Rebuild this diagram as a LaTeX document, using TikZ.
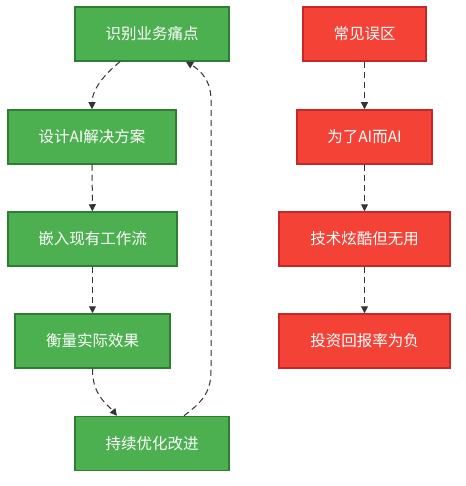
\documentclass[tikz,border=0pt]{standalone}
\usepackage{fontspec}
\newfontfamily\cjk{Noto Sans CJK SC}
\usetikzlibrary{arrows.meta}
\definecolor{FlowGreen}{RGB}{76, 175, 80}
\definecolor{FlowGreenDark}{RGB}{46, 125, 50}
\definecolor{FlowRed}{RGB}{244, 67, 54}
\definecolor{FlowRedDark}{RGB}{198, 40, 40}
\definecolor{LinkGray}{RGB}{51, 51, 51}
\tikzset{
	goodbox/.style = {draw=FlowGreenDark, fill=FlowGreen, line width=1.5pt, minimum height=54pt, inner sep=0pt, text=white, font=\cjk\fontsize{15.5}{18}\selectfont},
	badbox/.style = {draw=FlowRedDark, fill=FlowRed, line width=1.5pt, minimum height=54pt, inner sep=0pt, text=white, font=\cjk\fontsize{15.5}{18}\selectfont},
	link/.style = {draw=LinkGray, line width=1pt, dash pattern=on 6pt off 4pt, -{Triangle[length=7pt, width=7pt]}}
}
\begin{document}
\begin{tikzpicture}[x=1pt, y=-1pt]
	\useasboundingbox (0,0) rectangle (465,486);
	% left column
	\node[goodbox, minimum width=154pt] (pain) at (152, 34) {识别业务痛点};
	\node[goodbox, minimum width=168pt] (design) at (92, 137) {设计AI解决方案};
	\node[goodbox, minimum width=169pt] (embed) at (92.5, 239) {嵌入现有工作流};
	\node[goodbox, minimum width=155pt] (measure) at (92.5, 341) {衡量实际效果};
	\node[goodbox, minimum width=154pt] (improve) at (152, 443.5) {持续优化改进};
	% right column
	\node[badbox, minimum width=123pt] (myth) at (364.5, 34) {常见误区};
	\node[badbox, minimum width=135pt] (hype) at (364.5, 137) {为了AI而AI};
	\node[badbox, minimum width=171pt] (cool) at (364.5, 239) {技术炫酷但无用};
	\node[badbox, minimum width=171pt] (loss) at (364.5, 341) {投资回报率为负};
	% links
	\draw[link] ([xshift=-32pt]pain.south) .. controls (100, 78) and (92, 92) .. (design.north);
	\draw[link] (design) -- (embed);
	\draw[link] (embed) -- (measure);
	\draw[link] (measure.south) .. controls (92, 395) and (108, 405) .. ([xshift=-35pt]improve.north);
	\draw[link] ([xshift=32pt]improve.north) .. controls (205, 400) and (211, 390) .. (211, 370) -- (211, 100) .. controls (211, 80) and (200, 70) .. ([xshift=34pt]pain.south);
	\draw[link] (myth) -- (hype);
	\draw[link] (hype) -- (cool);
	\draw[link] (cool) -- (loss);
\end{tikzpicture}
\end{document}
